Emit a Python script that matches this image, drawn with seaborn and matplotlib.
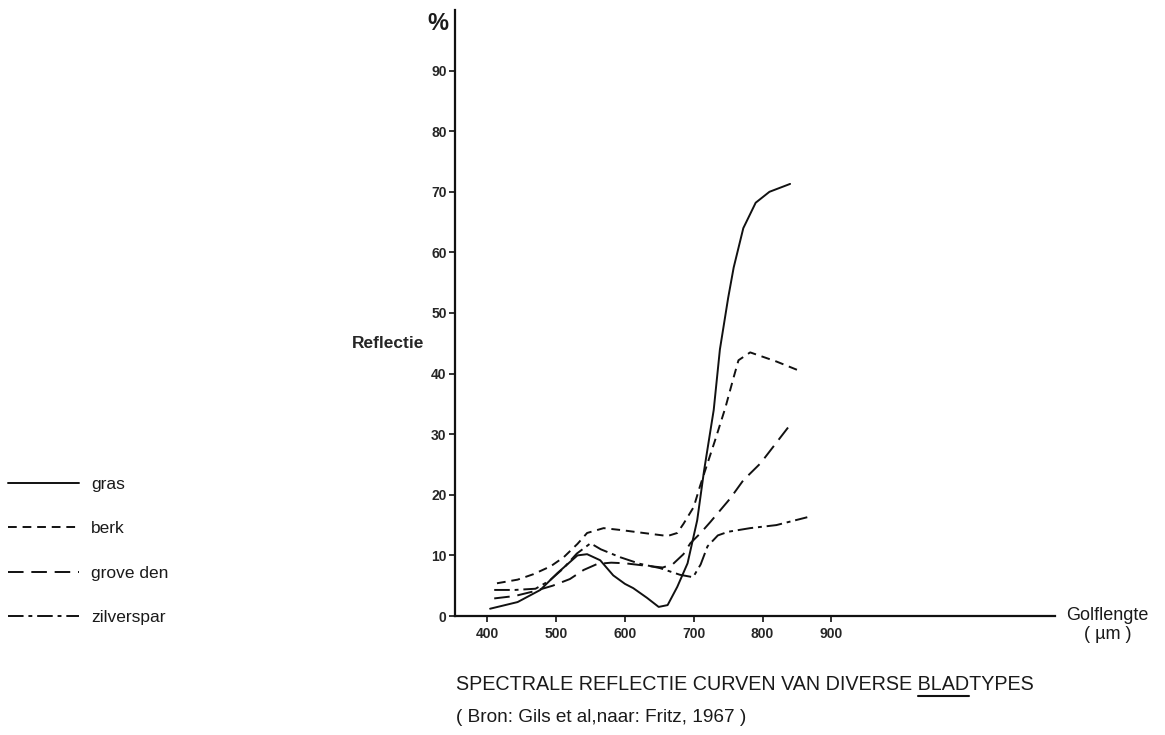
import pandas as pd
import matplotlib
matplotlib.use('Agg')
import matplotlib.pyplot as plt
import seaborn as sns

# values (golflengte in nm, reflectie in %)
gras_x = [404, 444, 477, 502, 531, 545, 564, 583, 600, 612, 632, 649, 662, 676, 691, 705,
          715, 729, 738, 750, 758, 772, 790, 810, 840]
gras_y = [1.2, 2.3, 4.3, 7.1, 10.0, 10.2, 9.2, 6.7, 5.3, 4.6, 3.0, 1.5, 1.8, 4.8, 8.7, 15.8,
          24.0, 34.0, 44.0, 52.5, 57.5, 64.0, 68.2, 70.0, 71.3]

berk_x = [414, 444, 467, 492, 511, 531, 545, 569, 593, 627, 662, 676, 685, 700, 709, 731,
          746, 758, 765, 782, 820, 855]
berk_y = [5.4, 6.0, 6.9, 8.2, 9.7, 11.9, 13.7, 14.5, 14.2, 13.7, 13.2, 13.7, 15.2, 18.0, 21.4, 29.0,
          34.4, 39.4, 42.2, 43.5, 42.0, 40.4]

den_x = [410, 440, 465, 495, 520, 540, 560, 580, 600, 630, 655, 670, 685, 695, 710, 724,
         753, 772, 797, 837]
den_y = [2.9, 3.3, 4.0, 5.0, 6.1, 7.6, 8.6, 8.8, 8.7, 8.3, 8.0, 8.6, 10.2, 12.0, 13.7, 15.5,
         19.4, 22.4, 25.2, 31.1]

spar_x = [410, 440, 470, 490, 510, 530, 550, 565, 593, 622, 651, 680, 699, 710, 720, 735,
          750, 782, 820, 865]
spar_y = [4.3, 4.3, 4.5, 5.8, 7.8, 10.3, 12.0, 11.0, 9.7, 8.6, 7.9, 6.8, 6.4, 8.5, 11.5, 13.3,
          13.9, 14.5, 15.0, 16.3]

soorten = ['gras', 'berk', 'grove den', 'zilverspar']
y_ticks = [0, 10, 20, 30, 40, 50, 60, 70, 80, 90]
x_ticks = [400, 500, 600, 700, 800, 900]

df = pd.concat([
    pd.DataFrame({'golflengte': gras_x, 'reflectie': gras_y, 'soort': 'gras'}),
    pd.DataFrame({'golflengte': berk_x, 'reflectie': berk_y, 'soort': 'berk'}),
    pd.DataFrame({'golflengte': den_x, 'reflectie': den_y, 'soort': 'grove den'}),
    pd.DataFrame({'golflengte': spar_x, 'reflectie': spar_y, 'soort': 'zilverspar'}),
])

sns.set_style('ticks')
plt.rcParams['font.family'] = ['Liberation Sans', 'DejaVu Sans']
plt.rcParams['text.color'] = '#1a1a1a'

fig = plt.figure(figsize=(11.65, 7.35), dpi=100)
ax = fig.add_axes([455 / 1165, 1 - 616 / 735, 600 / 1165, 606 / 735])

dash_map = {'gras': '', 'berk': (4.5, 3), 'grove den': (8, 4), 'zilverspar': (8, 2.5, 2, 2.5)}
sns.lineplot(data=df, x='golflengte', y='reflectie', style='soort', style_order=soorten,
             dashes=dash_map, color='#111111', linewidth=1.4, ax=ax)

handles, labels = ax.get_legend_handles_labels()
ax.get_legend().remove()
fig.legend(handles, labels, loc='center left', bbox_to_anchor=(0.0, 1 - 551 / 735),
           frameon=False, fontsize=12.5, handlelength=4.1, handletextpad=0.7,
           labelspacing=1.68, borderaxespad=0.05)

ax.set_xlim(353, 1225)
ax.set_ylim(0, 100)
ax.set_xticks(x_ticks)
ax.set_yticks(y_ticks)
ax.tick_params(axis='both', labelsize=10, length=4, width=1.2, color='#111111', pad=2)
ax.tick_params(axis='x', pad=4)
for lab in ax.get_xticklabels() + ax.get_yticklabels():
    lab.set_fontweight('bold')
for s in ['top', 'right']:
    ax.spines[s].set_visible(False)
for s in ['left', 'bottom']:
    ax.spines[s].set_linewidth(1.6)
    ax.spines[s].set_color('#111111')

ax.set_ylabel('Reflectie', rotation=0, fontsize=12.5, fontweight='bold', ha='center', va='center')
ax.yaxis.set_label_coords(-0.112, 0.45)
ax.set_xlabel('')
ax.text(1.088, -0.015, 'Golflengte\n( µm )', transform=ax.transAxes, ha='center', va='center',
        fontsize=13, linespacing=1.15)
fig.text(438 / 1165, 1 - 23 / 735, '%', fontsize=17, fontweight='bold', ha='center', va='center')

cap_x, cap_y = 456 / 1165, 1 - 684 / 735
prefix = 'SPECTRALE REFLECTIE CURVEN VAN DIVERSE '
cap_kw = dict(fontsize=14.2, va='center', ha='left')
fig.text(cap_x, cap_y, prefix + 'BLADTYPES', **cap_kw)
fig.text(cap_x, 1 - 718 / 735, '( Bron: Gils et al,naar: Fritz, 1967 )', fontsize=13.7,
         va='center', ha='left')

# underline the word BLAD
r = fig.canvas.get_renderer()
t0 = fig.text(cap_x, cap_y, prefix, **cap_kw)
t2 = fig.text(cap_x, cap_y, prefix + 'BLAD', **cap_kw)
x_start = t0.get_window_extent(r).x1
x_end = t2.get_window_extent(r).x1
y_line = t0.get_window_extent(r).y0 - 2
for t in (t0, t2):
    t.remove()
fig.add_artist(plt.Line2D([x_start / 1165, x_end / 1165], [y_line / 735, y_line / 735],
                          color='#111111', linewidth=1.5))

fig.savefig('out.png', dpi=100)
